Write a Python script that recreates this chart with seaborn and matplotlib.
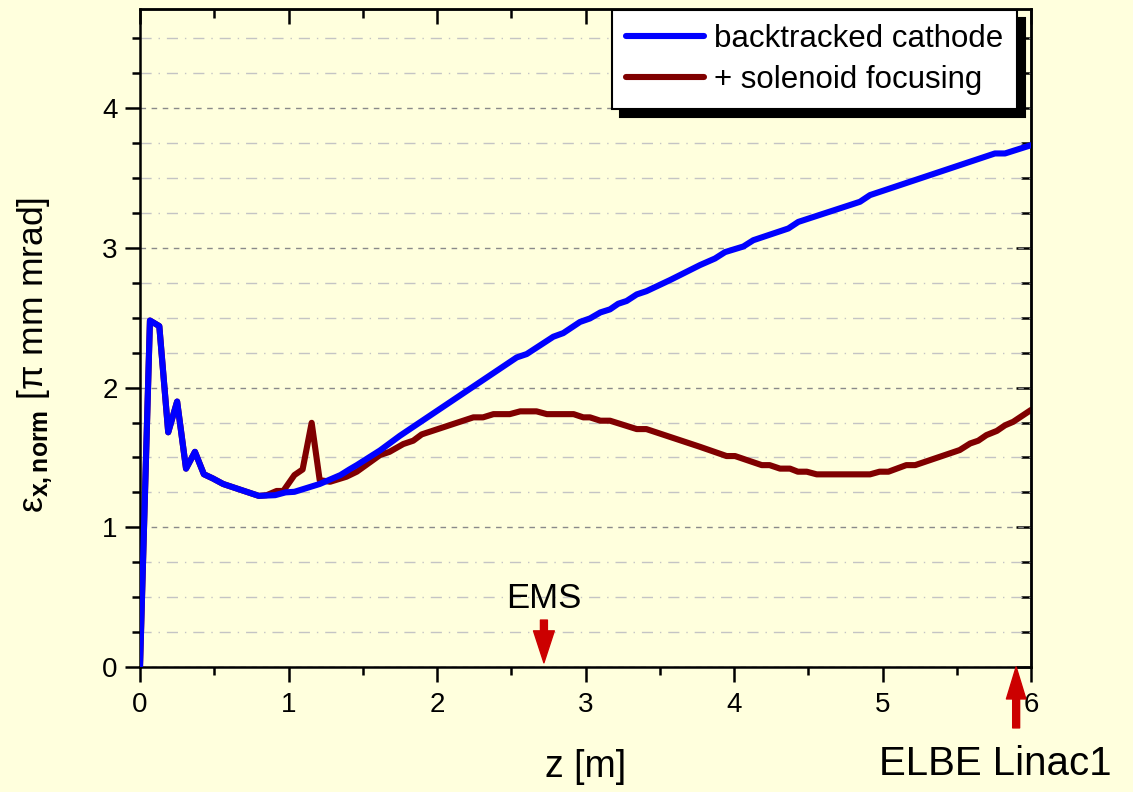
import numpy as np
import pandas as pd
import matplotlib
matplotlib.use("Agg")
import matplotlib.pyplot as plt
import seaborn as sns
from matplotlib.ticker import MultipleLocator

# ---------------- data ----------------
blue_z = [0.0, 0.067, 0.13, 0.19, 0.25, 0.31, 0.37, 0.43, 0.49, 0.56,
          0.80, 0.91, 0.98, 1.04, 1.21, 1.35, 1.41, 1.46, 1.616, 1.75,
          2.537, 2.604, 2.783, 2.85, 2.963, 3.03, 3.10, 3.165, 3.22, 3.277,
          3.345, 3.41, 3.57, 3.771, 3.872, 3.94, 4.063, 4.13, 4.366, 4.433,
          4.848, 4.916, 5.757, 5.825, 6.0]
blue_eps = [0.0, 2.48, 2.44, 1.68, 1.90, 1.42, 1.54, 1.38, 1.35, 1.31,
            1.225, 1.23, 1.25, 1.254, 1.31, 1.374, 1.414, 1.445, 1.55, 1.655,
            2.216, 2.24, 2.364, 2.39, 2.47, 2.495, 2.538, 2.56, 2.60, 2.62,
            2.667, 2.69, 2.77, 2.877, 2.924, 2.97, 3.01, 3.055, 3.139, 3.186,
            3.33, 3.378, 3.676, 3.676, 3.735]

red_z = [0.0, 0.067, 0.13, 0.19, 0.25, 0.31, 0.37, 0.43, 0.49, 0.56,
         0.80, 0.853, 0.92, 0.965, 1.04, 1.095, 1.156, 1.21, 1.28, 1.39,
         1.46, 1.616, 1.68, 1.773, 1.84, 1.897, 2.245, 2.31, 2.38, 2.49,
         2.56, 2.67, 2.74, 2.92, 2.985, 3.03, 3.10, 3.165, 3.345, 3.41,
         3.771, 3.95, 4.007, 4.187, 4.24, 4.31, 4.377, 4.43, 4.49, 4.557,
         4.916, 4.98, 5.04, 5.16, 5.22, 5.52, 5.59, 5.645, 5.70, 5.77,
         5.825, 5.88, 6.0]
red_eps = [0.0, 2.48, 2.44, 1.68, 1.90, 1.42, 1.54, 1.38, 1.35, 1.31,
           1.225, 1.23, 1.26, 1.26, 1.374, 1.414, 1.748, 1.338, 1.326, 1.362,
           1.398, 1.517, 1.54, 1.596, 1.62, 1.665, 1.787, 1.787, 1.81, 1.81,
           1.83, 1.83, 1.81, 1.81, 1.787, 1.787, 1.763, 1.763, 1.703, 1.703,
           1.576, 1.51, 1.51, 1.445, 1.445, 1.42, 1.42, 1.398, 1.398, 1.379,
           1.379, 1.398, 1.398, 1.445, 1.445, 1.553, 1.60, 1.62, 1.66, 1.69,
           1.73, 1.755, 1.84]

series_labels = ["backtracked cathode", "+ solenoid focusing"]
x_ticks = [0, 1, 2, 3, 4, 5, 6]
y_ticks = [0, 1, 2, 3, 4]
ems_z = 2.72
linac_z = 5.90

# ---------------- style ----------------
sns.set_style("ticks")
plt.rcParams['font.family'] = ['Liberation Sans', 'DejaVu Sans']
plt.rcParams['mathtext.fontset'] = 'custom'
plt.rcParams['mathtext.rm'] = 'Liberation Sans'
plt.rcParams['mathtext.bf'] = 'Liberation Sans:bold'
plt.rcParams['mathtext.it'] = 'Liberation Sans:italic'
for k in ['text.color', 'axes.labelcolor', 'xtick.color', 'ytick.color',
          'xtick.labelcolor', 'ytick.labelcolor']:
    plt.rcParams[k] = 'black'

bg = '#FFFFDD'
blue = '#0000FF'
dred = '#800000'
arrow_red = '#CC0000'

W, H = 1133, 792
fig = plt.figure(figsize=(W / 100, H / 100), dpi=100)
fig.patch.set_facecolor(bg)
ax = fig.add_axes([140 / W, 1 - 667 / H, (1031 - 140) / W, (667 - 9) / H])
ax.set_facecolor(bg)

df_b = pd.DataFrame({"z": blue_z, "eps": blue_eps})
df_r = pd.DataFrame({"z": red_z, "eps": red_eps})

sns.lineplot(data=df_r, x="z", y="eps", ax=ax, color=dred, lw=4.4,
             estimator=None, label=series_labels[1], zorder=2)
sns.lineplot(data=df_b, x="z", y="eps", ax=ax, color=blue, lw=4.4,
             estimator=None, label=series_labels[0], zorder=3)

ax.set_xlim(0, 6)
ax.set_ylim(0, 4.71)
ax.set_xticks(x_ticks)
ax.set_yticks(y_ticks)
ax.xaxis.set_minor_locator(MultipleLocator(0.5))
ax.yaxis.set_minor_locator(MultipleLocator(0.25))

# grid
ax.set_axisbelow(True)
ax.yaxis.grid(True, which='major', color='#8a8a8a', lw=1.0, linestyle=(0, (4, 4)))
ax.yaxis.grid(True, which='minor', color='#c4c4c4', lw=1.0, linestyle=(0, (8, 5, 1, 5)))
ax.xaxis.grid(False, which='both')

for s in ax.spines.values():
    s.set_visible(True)
    s.set_linewidth(1.8)
    s.set_color('black')

ax.tick_params(axis='both', which='major', direction='out', length=11, width=1.8,
               labelsize=20, color='black', labelcolor='black', top=False, right=False)
ax.tick_params(axis='both', which='minor', direction='out', length=5.5, width=1.8,
               color='black', top=False, right=False)
ax.tick_params(axis='x', which='major', pad=7)
ax.tick_params(axis='y', which='major', pad=5)

# inward ticks on top / right
secx = ax.secondary_xaxis('top')
secx.set_xticks(x_ticks)
secx.xaxis.set_minor_locator(MultipleLocator(0.5))
secx.tick_params(which='major', direction='in', length=11, width=1.8, labeltop=False)
secx.tick_params(which='minor', direction='in', length=6.5, width=1.8)
secx.spines['top'].set_linewidth(1.8)
secy = ax.secondary_yaxis('right')
secy.set_yticks(y_ticks)
secy.yaxis.set_minor_locator(MultipleLocator(0.25))
secy.tick_params(which='major', direction='in', length=11, width=1.8, labelright=False)
secy.tick_params(which='minor', direction='in', length=7, width=1.8)
secy.spines['right'].set_linewidth(1.8)

# labels
ax.set_xlabel("z [m]", fontsize=27)
ax.xaxis.set_label_coords(0.5, -0.125)
ax.set_ylabel(r"$\mathrm{ε}_{\mathbf{x,norm}}$ [π mm mrad]", fontsize=25.5)
ax.yaxis.set_label_coords(-0.0954, 0.474)

# legend
handles, labels = ax.get_legend_handles_labels()
order = [labels.index(series_labels[0]), labels.index(series_labels[1])]
leg = ax.legend([handles[i] for i in order], [labels[i] for i in order],
                loc='upper right', bbox_to_anchor=(1017 / W, 1 - 10 / H),
                bbox_transform=fig.transFigure, borderaxespad=0, fontsize=22.5,
                frameon=True, fancybox=False, edgecolor='black', facecolor='white',
                framealpha=1, handlelength=2.5, handletextpad=0.3,
                labelspacing=0.35, borderpad=0.45,
                shadow={'ox': 6, 'oy': -6, 'facecolor': 'black',
                        'edgecolor': 'black', 'alpha': 1})
leg.get_frame().set_linewidth(1.5)
leg.set_zorder(10)
for t in leg.get_texts():
    t.set_color('black')

# annotations
ax.annotate('', xy=(ems_z, 0.03), xytext=(ems_z, 0.336),
            arrowprops=dict(arrowstyle='simple,head_length=2.3,head_width=1.5,tail_width=0.5',
                            mutation_scale=10, color=arrow_red, shrinkA=0, shrinkB=0),
            annotation_clip=False)
ax.text(ems_z, 0.487, "EMS", ha='center', va='center', fontsize=25, color='black')

ax.annotate('', xy=(linac_z, 0.0), xytext=(linac_z, -0.436),
            arrowprops=dict(arrowstyle='simple,head_length=2.3,head_width=1.4,tail_width=0.5',
                            mutation_scale=10, color=arrow_red, shrinkA=0, shrinkB=0),
            annotation_clip=False, zorder=5)
fig.text(995.5 / W, 1 - 775 / H, "ELBE Linac1", ha='center', va='baseline',
         fontsize=29, color='black')

fig.savefig("out.png", dpi=100, facecolor=bg)
